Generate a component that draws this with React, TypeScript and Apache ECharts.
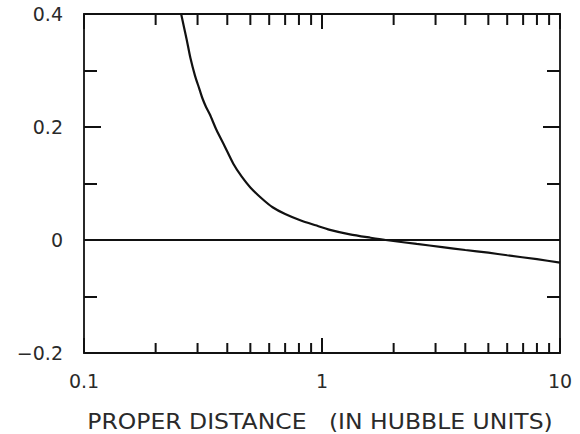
import React, { useEffect, useRef } from "react";
import * as echarts from "echarts";

const curveX = [0.256, 0.263, 0.27, 0.28, 0.293, 0.305, 0.315, 0.326, 0.338, 0.36, 0.39, 0.424, 0.46, 0.5, 0.56, 0.62, 0.7, 0.81, 0.94, 1.08, 1.31, 1.6, 1.85, 2.5, 3.2, 4.0, 5.0, 6.0, 8.0, 10];
const curveY = [0.4, 0.377, 0.355, 0.322, 0.29, 0.268, 0.25, 0.235, 0.222, 0.195, 0.166, 0.135, 0.112, 0.093, 0.073, 0.058, 0.046, 0.035, 0.026, 0.018, 0.01, 0.004, 0.0, -0.007, -0.0125, -0.0177, -0.0225, -0.027, -0.034, -0.04];
const zeroLineX = [0.1, 10];
const minorTickX = [0.2, 0.3, 0.4, 0.5, 0.6, 0.7, 0.8, 0.9, 2, 3, 4, 5, 6, 7, 8, 9];
const xTickLabels: Record<string, string> = { "0.1": "0.1", "1": "1", "10": "10" };
const yTickLabels: Record<string, string> = { "0.4": "0.4", "0.2": "0.2", "0": "0", "-0.2": "\u22120.2" };
const xTitle = "PROPER DISTANCE   (IN HUBBLE UNITS)";

const FONT = "DejaVu Sans";
const INK = "#111111";
const LABEL_INK = "#2a2a2a";
const TICK_W = 2;

export default function App() {
  const ref = useRef<HTMLDivElement>(null);
  useEffect(() => {
    if (!ref.current) return;
    const chart = echarts.init(ref.current, null, { renderer: "svg" });
    const yMin = -0.2;
    const yMax = 0.4;
    // minor x tick lengths expressed in y data units (plot height 339px spans 0.6)
    const unitPerPx = (yMax - yMin) / 339;
    const botLen = 10 * unitPerPx;
    const topLen = 11 * unitPerPx;
    const tickSegs: any[] = [];
    minorTickX.forEach((x) => {
      tickSegs.push([x, yMin], [x, yMin + botLen], [x, "-"]);
      tickSegs.push([x, yMax], [x, yMax - topLen], [x, "-"]);
    });
    const xAxisCommon = {
      type: "log" as const,
      logBase: 10,
      min: 0.1,
      max: 10,
      axisLine: { show: true, onZero: false, lineStyle: { color: INK, width: 1.8 } },
      axisTick: { show: true, inside: true, length: 15, lineStyle: { color: INK, width: TICK_W } },
      minorTick: { show: false },
      splitLine: { show: false },
      minorSplitLine: { show: false },
    };
    const yAxisCommon = {
      type: "value" as const,
      min: yMin,
      max: yMax,
      interval: 0.2,
      axisLine: { show: true, onZero: false, lineStyle: { color: INK, width: 1.8 } },
      axisTick: { show: true, inside: true, length: 17, lineStyle: { color: INK, width: TICK_W } },
      minorTick: { show: true, splitNumber: 2, length: 13, lineStyle: { color: INK, width: TICK_W } },
      splitLine: { show: false },
      minorSplitLine: { show: false },
    };
    chart.setOption({
      animation: false,
      backgroundColor: "#fff",
      grid: { left: 84, right: 20, top: 14, bottom: 81, containLabel: false },
      graphic: [
        {
          type: "text",
          x: 320,
          y: 421,
          scaleX: 1.12,
          silent: true,
          style: {
            text: xTitle,
            fontFamily: FONT,
            fontSize: 21,
            fill: LABEL_INK,
            textAlign: "center",
            textVerticalAlign: "middle",
          },
        },
      ],
      xAxis: [
        {
          ...xAxisCommon,
          position: "bottom",
          axisLabel: {
            show: true,
            margin: 18,
            fontFamily: FONT,
            fontSize: 19,
            color: LABEL_INK,
            formatter: (v: number) => {
              const k = String(Math.round(v * 1000) / 1000);
              return xTickLabels[k] ?? "";
            },
          },
        },
        {
          ...xAxisCommon,
          position: "top",
          axisLabel: { show: false },
        },
      ],
      yAxis: [
        {
          ...yAxisCommon,
          position: "left",
          axisLabel: {
            show: true,
            margin: 21,
            fontFamily: FONT,
            fontSize: 19,
            color: LABEL_INK,
            formatter: (v: number) => {
              const k = String(Math.round(v * 1000) / 1000);
              return yTickLabels[k] ?? "";
            },
          },
        },
        {
          ...yAxisCommon,
          position: "right",
          axisLabel: { show: false },
        },
      ],
      series: [
        {
          type: "line",
          xAxisIndex: 0,
          yAxisIndex: 0,
          data: zeroLineX.map((x) => [x, 0]),
          showSymbol: false,
          lineStyle: { color: INK, width: 1.8 },
          silent: true,
        },
        {
          type: "line",
          xAxisIndex: 0,
          yAxisIndex: 0,
          data: curveX.map((x, i) => [x, curveY[i]]),
          showSymbol: false,
          smooth: 0.25,
          lineStyle: { color: INK, width: 2.2 },
          silent: true,
        },
        {
          type: "line",
          xAxisIndex: 0,
          yAxisIndex: 0,
          data: tickSegs,
          showSymbol: false,
          connectNulls: false,
          clip: false,
          lineStyle: { color: INK, width: TICK_W },
          silent: true,
        },
      ],
    });
    return () => chart.dispose();
  }, []);
  return (
    <div
      ref={ref}
      style={{ position: "fixed", left: 0, top: 0, width: 580, height: 434, background: "#fff" }}
    />
  );
}
